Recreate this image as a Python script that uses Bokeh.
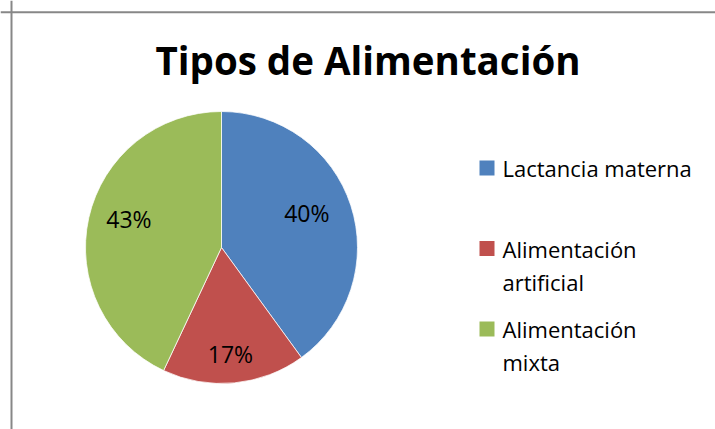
import math
from bokeh.plotting import figure
from bokeh.models import Range1d, Span, ColumnDataSource
from bokeh.core.properties import value
from bokeh.embed import file_html
from bokeh.resources import INLINE

# ---- data ----
categories = ["Lactancia materna", "Alimentación artificial", "Alimentación mixta"]
percentages = [40, 17, 43]
title_text = "Tipos de Alimentación"

# ---- styles / layout ----
colors = ["#4F81BD", "#C0504D", "#9BBB59"]
FONT = "Open Sans"
W, H = 715, 429
PAGE_OFF = 0


def px(page_x):
    return page_x - PAGE_OFF


def py(page_y):
    return H - (page_y - PAGE_OFF)


p = figure(width=W, height=H, x_range=Range1d(0, W), y_range=Range1d(0, H),
           output_backend="svg", toolbar_location=None, min_border=0,
           x_axis_location=None, y_axis_location=None,
           outline_line_color=None, background_fill_color="white",
           border_fill_color="white")
p.grid.visible = False

# chart-area border (only top and left visible in the window)
p.add_layout(Span(location=px(11), dimension="height", line_color="#878787", line_width=2))
p.add_layout(Span(location=py(11.7), dimension="width", line_color="#878787", line_width=2))

# ---- pie ----
cx, cy, R = px(221), py(247), 136
total = float(sum(percentages))
starts, ends, mids = [], [], []
acc = 0.0
for v in percentages:
    a0 = math.pi / 2 - 2 * math.pi * acc / total
    acc += v
    a1 = math.pi / 2 - 2 * math.pi * acc / total
    starts.append(a0)
    ends.append(a1)
    mids.append((a0 + a1) / 2)

src = ColumnDataSource(dict(start=starts, end=ends, color=colors))
p.wedge(x=cx, y=cy, radius=R, start_angle="start", end_angle="end",
        direction="clock", fill_color="color", line_color="white",
        line_width=0.75, source=src)

# data labels (placed by their visual centre)
label_radius = [92, 107, 97]
label_shift_deg = [4, -0.6, -4.7]
LABEL_SIZE = 23
lx, ly, lt = [], [], []
for v, m, r, s in zip(percentages, mids, label_radius, label_shift_deg):
    a = m + math.radians(s)
    lx.append(cx + r * math.cos(a))
    ly.append(cy + r * math.sin(a))
    lt.append(f"{v}%")
p.text(x=lx, y=ly, text=lt, text_font=value(FONT), text_font_size=f"{LABEL_SIZE}px",
       text_align="center", text_baseline="middle", text_color="black")

# ---- title ----
p.text(x=[px(367.5)], y=[py(59)], text=[title_text], text_font=value(FONT),
       text_font_size="38.5px", text_font_style="bold", text_align="center",
       text_baseline="middle", text_color="black")

# ---- legend ----
LEG_SIZE = 22
sq_x, sq_y, tx, ty, tt = [], [], [], [], []
for i, name in enumerate(categories):
    mid_y = 167.5 + 80.5 * i
    sq_x.append(px(486.5))
    sq_y.append(py(mid_y))
    if len(name) > 17:
        first, rest = name.split(" ", 1)
        lines = [first, rest]
    else:
        lines = [name]
    for j, line in enumerate(lines):
        tx.append(px(502))
        ty.append(py(mid_y + 33 * j))
        tt.append(line)

p.rect(x=sq_x, y=sq_y, width=15, height=15, fill_color=colors, line_color=None)
p.text(x=tx, y=ty, text=tt, text_font=value(FONT), text_font_size=f"{LEG_SIZE}px",
       text_align="left", text_baseline="middle", text_color="black")

open("out.html", "w").write(file_html(p, INLINE))
